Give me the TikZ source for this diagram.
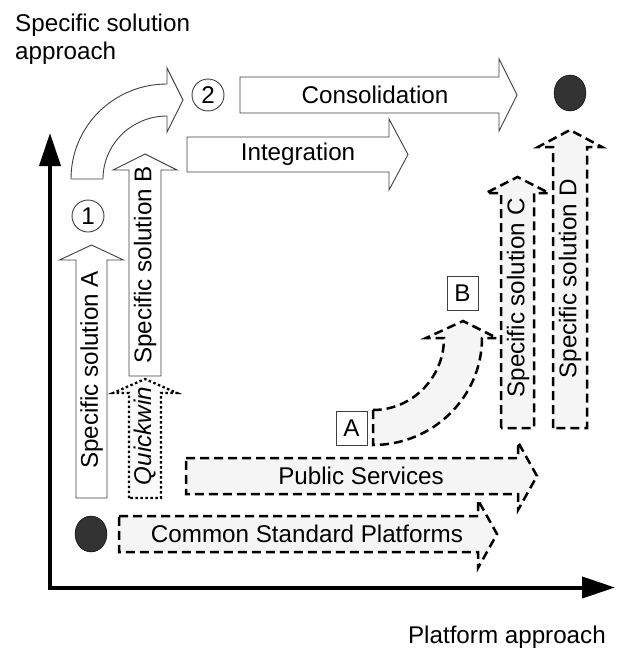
\documentclass[tikz,border=0pt]{standalone}
\usepackage{fontspec}
\setmainfont{Liberation Sans}
\usetikzlibrary{arrows.meta,shapes.geometric}

% upright block arrow: style, x centre, y foot, y head base, y tip, half body, half head
\newcommand{\vblock}[7]{\draw[#1] (#2-#6,#3) -- (#2-#6,#4) -- (#2-#7,#4) -- (#2,#5) -- (#2+#7,#4) -- (#2+#6,#4) -- (#2+#6,#3) -- cycle;}
% block arrow to the right: style, x foot, y centre, x head base, x tip, half body, half head
\newcommand{\hblock}[7]{\draw[#1] (#2,#3-#6) -- (#4,#3-#6) -- (#4,#3-#7) -- (#5,#3) -- (#4,#3+#7) -- (#4,#3+#6) -- (#2,#3+#6) -- cycle;}

\begin{document}
\begin{tikzpicture}[x=1pt,y=-1pt,
    every node/.style={font=\fontsize{24.2}{28}\selectfont},
    blk/.style={draw=black!75,fill=white,line width=0.9pt},
    dsh/.style={draw=black,fill=black!4,line width=2.5pt,dash pattern=on 9pt off 5pt},
    dot/.style={draw=black,fill=black!2,line width=2.3pt,dash pattern=on 2.5pt off 2.5pt},
    axis/.style={line width=4pt,line join=miter,arrows={Triangle[length=33pt,width=21pt]-Triangle[length=33pt,width=21pt]}},
    lbl/.style={inner sep=0pt},
    num/.style={draw=black!75,circle,minimum size=32pt,inner sep=0pt,line width=0.9pt},
    box/.style={draw=black!75,minimum width=31pt,minimum height=34pt,inner sep=0pt,line width=0.9pt},
    spot/.style={draw=black,fill=black!80,ellipse,minimum width=32pt,minimum height=36pt,inner sep=0pt}]
  \useasboundingbox (0,0) rectangle (618,648);

  % axes
  \coordinate (O)    at (50,587.5);
  \coordinate (ytop) at (50,133);
  \coordinate (xend) at (615,587.5);
  \draw[axis] (ytop) -- (O) -- (xend);
  \node[lbl,align=left,anchor=north west] (yname) at (15,14) {Specific solution\\approach};
  \node[lbl,anchor=base east] (xname) at (606,643) {Platform approach};

  % block arrows
  \vblock{blk}{91.5}{498}{260}{245}{15.5}{32}
  \vblock{blk}{145}{376}{170}{154}{16}{32}
  \vblock{dot}{145}{498}{393}{379}{16}{32}
  \vblock{dsh}{517.5}{428}{193}{177}{16.5}{31.5}
  \vblock{dsh}{570}{428}{147}{130}{17}{32}
  \hblock{blk}{240}{95}{499}{517}{18}{36}
  \hblock{blk}{187}{154.5}{389}{408}{17.5}{35.5}
  \hblock{dsh}{186}{476}{518}{537}{18}{34}
  \hblock{dsh}{119}{534}{478}{497}{18}{34}

  % curved arrows
  \draw[blk] (71,179) .. controls (71,126) and (114,84) .. (167,84) -- (167,68) -- (183,100)
    -- (167,132) -- (167,116) .. controls (132,116) and (103,144) .. (103,179) -- cycle;
  \draw[dsh] (373,410) -- (373,445) .. controls (433,445) and (482,397) .. (482,338) -- (497,338)
    -- (463,321) -- (426,338) -- (444,338) .. controls (444,378) and (412,410) .. (373,410) -- cycle;

  % labels
  \node[lbl,rotate=90] (solA)   at (91.5,370) {Specific solution A};
  \node[lbl,rotate=90] (solB)   at (145,265)  {Specific solution B};
  \node[lbl,rotate=90] (quick)  at (145,436)  {\textit{Quickwin}};
  \node[lbl,rotate=90] (solC)   at (518,298)  {Specific solution C};
  \node[lbl,rotate=90] (solD)   at (570,279)  {Specific solution D};
  \node[lbl] (consol) at (375,95)  {Consolidation};
  \node[lbl] (integ)  at (298,154) {Integration};
  \node[lbl] (pubsrv) at (361,476) {Public Services};
  \node[lbl] (common) at (307,534) {Common Standard Platforms};

  \node[num]  (n1)    at (88,216)  {1};
  \node[num]  (n2)    at (208,95)  {2};
  \node[box]  (bA)    at (351.5,428) {A};
  \node[box]  (bB)    at (462.5,293) {B};
  \node[spot] (start) at (91,534)  {};
  \node[spot] (goal)  at (570,93)  {};
\end{tikzpicture}
\end{document}
